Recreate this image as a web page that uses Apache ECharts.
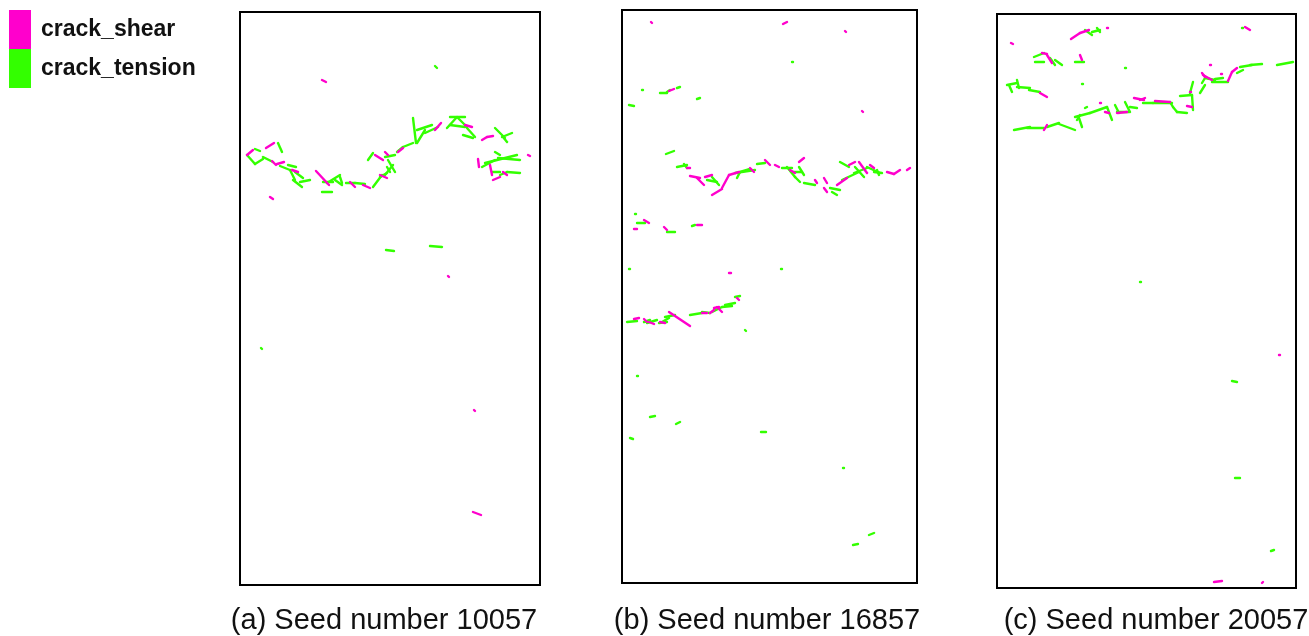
<!DOCTYPE html>
<html>
<head>
<meta charset="utf-8">
<script src="https://cdn.jsdelivr.net/npm/echarts@6/dist/echarts.min.js"></script>
<style>
html,body{margin:0;padding:0;background:#fff;}
#chart{width:1309px;height:636px;}
</style>
</head>
<body>
<div id="chart"></div>
<script>
// Panel captions
const captions = ['(a) Seed number 10057', '(b) Seed number 16857', '(c) Seed number 20057'];
const seriesNames = ['crack_shear', 'crack_tension'];
// Sample extents (model units: x across, y = depth from top)
const panelWidth = [300, 295, 299];
const panelHeight = [573, 573, 574];

// Crack segments [x1, y1, x2, y2] per panel
const shearA = [
  [7,143,13,138],[26,136,34,131],[32,149,36,153],[37,152,44,150],[52,158,58,160],
  [76,159,89,173],[110,170,115,175],[123,173,130,176],[135,143,143,148],[145,140,148,143],
  [140,163,147,166],[30,185,33,187],[158,140,163,136],[195,118,201,111],[225,113,232,115],
  [242,128,247,125],[247,125,253,124],[238,147,239,155],[250,153,252,163],[253,168,260,165],
  [263,160,267,163],[288,143,290,144],[82,68,86,70],[208,264,209,265],[234,398,235,399],
  [233,500,241,503]
];
const tensionA = [
  [38,131,42,140],[15,137,20,139],[7,143,15,152],[15,152,23,147],[23,145,33,150],
  [40,154,50,158],[48,153,56,155],[50,158,55,168],[55,160,63,166],[53,168,62,175],
  [60,170,70,168],[83,170,93,170],[82,180,92,180],[87,171,100,163],[95,168,102,173],
  [100,165,102,171],[106,171,115,171],[115,171,125,172],[128,148,133,141],[133,175,142,163],
  [140,165,147,161],[147,155,150,160],[145,145,155,143],[148,148,155,160],[145,163,153,153],
  [157,140,163,135],[163,135,173,131],[173,106,176,131],[177,131,185,118],[177,118,192,113],
  [185,121,198,115],[207,116,217,105],[210,105,225,105],[210,113,225,115],[218,106,227,115],
  [223,123,233,126],[227,116,235,125],[255,116,265,126],[262,125,272,121],[263,125,267,130],
  [242,155,255,148],[255,140,260,143],[245,151,277,143],[258,146,280,148],[252,160,260,160],
  [260,163,267,160],[267,160,280,161],[195,54,197,56],[146,238,154,239],[190,234,202,235],
  [21,336,22,337]
];
const shearB = [
  [65,158,68,158],[68,166,78,168],[75,168,82,175],[83,167,90,165],[90,185,100,179],
  [100,178,107,165],[107,165,117,162],[128,158,132,162],[143,150,148,155],[153,155,157,157],
  [177,152,182,148],[168,160,173,163],[193,170,195,173],[202,168,205,173],[202,178,205,182],
  [215,175,225,168],[227,155,233,152],[237,152,245,163],[248,155,252,158],[265,162,272,164],
  [272,164,278,160],[285,160,288,158],[12,309,17,308],[22,309,25,312],[27,312,32,314],
  [38,312,43,313],[47,302,68,316],[80,303,85,303],[88,303,92,300],[92,298,97,297],
  [95,297,100,302],[115,288,117,290],[29,12,30,13],[161,14,165,12],[223,21,224,22],
  [47,81,52,79],[240,101,241,102],[22,210,27,213],[12,219,15,219],[42,217,45,220],
  [75,215,80,215],[107,263,109,263]
];
const tensionB = [
  [44,144,52,141],[55,157,65,155],[62,154,65,158],[85,170,95,172],[90,167,97,175],
  [113,163,133,160],[115,168,118,162],[118,162,128,159],[135,154,143,153],[160,158,170,158],
  [165,157,173,167],[177,157,182,165],[170,162,180,162],[173,167,178,172],[182,173,193,175],
  [208,178,218,180],[210,182,215,185],[220,170,237,162],[218,152,227,157],[232,163,245,158],
  [233,157,242,167],[245,157,258,163],[252,162,260,163],[255,160,257,165],[5,312,15,311],
  [22,312,28,310],[25,313,35,310],[37,313,45,312],[40,312,47,308],[43,307,53,305],
  [68,305,80,303],[80,302,88,303],[90,302,100,297],[100,297,110,296],[103,295,113,293],
  [113,287,118,286],[123,320,124,321],[170,52,171,52],[20,80,21,80],[38,83,45,83],
  [45,82,48,80],[55,78,58,77],[75,89,78,88],[7,95,12,96],[13,204,14,204],
  [15,213,23,213],[45,222,53,222],[70,216,73,215],[7,259,8,259],[159,259,160,259],
  [15,366,16,366],[8,428,11,429],[28,407,33,406],[54,414,58,412],[139,422,144,422],
  [221,458,222,458],[247,525,252,523],[231,535,236,534]
];
const shearC = [
  [14,29,16,30],[74,25,83,19],[83,19,92,16],[110,14,111,14],[45,39,50,40],
  [50,41,55,49],[83,41,85,46],[43,79,50,83],[47,116,50,111],[103,89,104,89],
  [108,98,112,99],[120,99,130,98],[137,84,147,86],[248,13,253,16],[213,51,214,51],
  [224,60,225,60],[143,86,148,84],[158,87,173,88],[190,92,195,93],[193,78,194,78],
  [205,59,208,63],[206,61,215,66],[231,67,235,58],[235,58,240,54],[282,341,283,341],
  [217,568,225,567],[265,569,266,568]
];
const tensionC = [
  [88,16,95,21],[95,18,103,16],[100,14,103,18],[37,43,47,39],[38,48,47,48],
  [53,44,58,51],[58,46,65,51],[78,48,87,48],[128,54,129,54],[85,70,86,70],
  [10,71,20,69],[20,66,22,74],[12,71,15,78],[20,73,33,74],[32,76,43,78],
  [17,116,33,113],[30,114,47,114],[50,113,62,109],[62,110,78,116],[80,106,83,101],
  [78,103,93,99],[82,104,85,113],[88,94,90,93],[93,99,110,93],[110,93,115,106],
  [118,91,122,99],[120,98,132,98],[128,88,133,98],[133,93,140,94],[245,14,246,14],
  [146,89,156,89],[156,89,175,89],[173,88,176,93],[176,93,180,98],[180,98,190,99],
  [193,79,196,68],[195,81,196,96],[183,82,195,81],[203,79,208,71],[205,69,208,64],
  [208,64,218,66],[215,68,231,68],[218,65,226,64],[240,59,246,56],[243,53,255,51],
  [253,51,265,50],[280,51,296,48],[143,268,144,268],[235,367,240,368],[238,464,243,464],
  [274,537,277,536]
];

const shearData = [shearA, shearB, shearC];
const tensionData = [tensionA, tensionB, tensionC];

const COLORS = { shear: '#ff00cc', tension: '#33ff00' };

// Layout of panels (pixels)
const gridBoxes = [
  { left: 240, top: 12, width: 300, height: 573 },
  { left: 622, top: 10, width: 295, height: 573 },
  { left: 997, top: 14, width: 299, height: 574 }
];
const captionPos = [{ x: 384, y: 621 }, { x: 767, y: 621 }, { x: 1156, y: 621 }];

function segRender(params, api) {
  const p1 = api.coord([api.value(0), api.value(1)]);
  const p2 = api.coord([api.value(2), api.value(3)]);
  let x2 = p2[0], y2 = p2[1];
  if (Math.abs(x2 - p1[0]) < 1 && Math.abs(y2 - p1[1]) < 1) { x2 = p1[0] + 1.5; }
  return {
    type: 'line',
    shape: { x1: p1[0], y1: p1[1], x2: x2, y2: y2 },
    style: { stroke: api.visual('color'), lineWidth: 2.4, lineCap: 'round' }
  };
}

const grids = [], xAxes = [], yAxes = [], series = [], graphics = [];
for (let i = 0; i < 3; i++) {
  grids.push(Object.assign({ show: true, borderColor: '#000', borderWidth: 2, backgroundColor: '#fff', containLabel: false }, gridBoxes[i]));
  xAxes.push({ type: 'value', gridIndex: i, min: 0, max: panelWidth[i], show: false });
  yAxes.push({ type: 'value', gridIndex: i, min: 0, max: panelHeight[i], inverse: true, show: false });
  series.push({
    name: seriesNames[1], type: 'custom', xAxisIndex: i, yAxisIndex: i,
    renderItem: segRender, itemStyle: { color: COLORS.tension },
    encode: { x: [0, 2], y: [1, 3] }, data: tensionData[i], clip: true, silent: true
  });
  series.push({
    name: seriesNames[0], type: 'custom', xAxisIndex: i, yAxisIndex: i,
    renderItem: segRender, itemStyle: { color: COLORS.shear },
    encode: { x: [0, 2], y: [1, 3] }, data: shearData[i], clip: true, silent: true
  });
  graphics.push({
    type: 'text', x: captionPos[i].x, y: captionPos[i].y,
    style: { text: captions[i], font: '29px "Liberation Sans", Arial, sans-serif', fill: '#111', textAlign: 'center', textVerticalAlign: 'middle' }
  });
}

const chart = echarts.init(document.getElementById('chart'), null, { renderer: 'canvas' });
chart.setOption({
  animation: false,
  backgroundColor: '#fff',
  legend: {
    data: [
      { name: seriesNames[0], icon: 'rect', itemStyle: { color: COLORS.shear } },
      { name: seriesNames[1], icon: 'rect', itemStyle: { color: COLORS.tension } }
    ],
    orient: 'vertical', left: 9, top: 10, itemWidth: 22, itemHeight: 39, itemGap: 0,
    padding: 0, selectedMode: false,
    textStyle: { fontFamily: '"Liberation Sans", Arial, sans-serif', fontWeight: 'bold', fontSize: 23, color: '#111', padding: [2, 0, 0, 5] }
  },
  grid: grids, xAxis: xAxes, yAxis: yAxes, series: series, graphic: graphics
});
</script>
</body>
</html>
